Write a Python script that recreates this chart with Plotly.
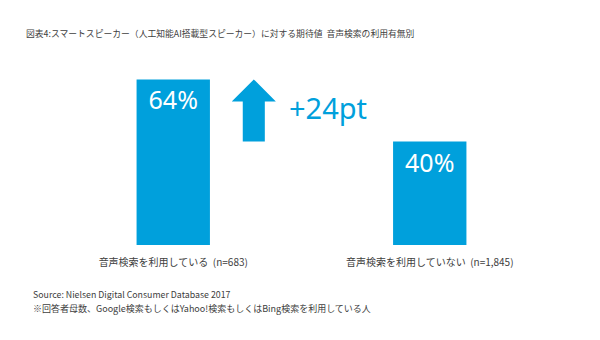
import plotly.graph_objects as go

categories = ["音声検索を利用している", "音声検索を利用していない"]
sample_sizes = ["n=683", "n=1,845"]
values = [64, 40]
bar_labels = ["64%", "40%"]

title = "図表4:スマートスピーカー（人工知能AI搭載型スピーカー）に対する期待値  音声検索の利用有無別"
source = "Source: Nielsen Digital Consumer Database 2017"
note = "※回答者母数、Google検索もしくはYahoo!検索もしくはBing検索を利用している人"

BLUE = "#00a0dc"
TEXT = "#404040"
JP = "'Noto Sans CJK JP', 'Noto Sans', sans-serif"
LAT = "'Noto Sans', 'Open Sans', sans-serif"

xs = list(range(len(categories)))
tick_text = [f"{c}  ({n})" for c, n in zip(categories, sample_sizes)]

fig = go.Figure()
fig.add_trace(go.Bar(
    x=xs, y=values, width=0.286,
    marker=dict(color=BLUE, line=dict(width=0)),
    text=bar_labels, textposition="inside", insidetextanchor="end",
    textfont=dict(color="white", size=25, family=LAT),
    hoverinfo="skip",
))

# arrow between the two values
hi, lo = max(values), min(values)
head_len = 8.5
x_l, x_r = 0.228, 0.400
s_l, s_r = 0.271, 0.357
path = (f"M {s_l} {lo} L {s_r} {lo} L {s_r} {hi - head_len} L {x_r} {hi - head_len} "
        f"L {(x_l + x_r) / 2} {hi} L {x_l} {hi - head_len} L {s_l} {hi - head_len} Z")
fig.add_shape(type="path", path=path, xref="x", yref="y",
              fillcolor=BLUE, line=dict(width=0))

fig.add_annotation(x=0.443, y=(hi + lo) / 2 + 1, xref="x", yref="y",
                   text=f"+{hi - lo}pt", showarrow=False, xanchor="left", yanchor="middle",
                   font=dict(size=29, color=BLUE, family=LAT))

L, R, T, B = 45, 42, 38, 95
W, H = 600 - L - R, 340 - T - B

fig.update_layout(
    width=600, height=340,
    margin=dict(l=L, r=R, t=T, b=B),
    paper_bgcolor="white", plot_bgcolor="white",
    showlegend=False,
    xaxis=dict(range=[-0.5, 1.5], tickmode="array", tickvals=xs, ticktext=tick_text,
               showgrid=False, zeroline=False, showline=False, ticks="",
               tickfont=dict(size=10, color=TEXT, family=JP), ticklabelstandoff=10),
    yaxis=dict(range=[0, 80], visible=False, fixedrange=True),
)

def pix(text, x, y, size):
    fig.add_annotation(
        x=(x - L) / W, y=(340 - B - y) / H, xref="paper", yref="paper",
        text=text, showarrow=False, xanchor="left", yanchor="middle",
        font=dict(size=size, color=TEXT, family=JP),
    )

pix(title, 24, 34, 8.8)
pix(source, 31, 294, 8.8)
pix(note, 31, 308, 9)

fig.write_html("out.html")
